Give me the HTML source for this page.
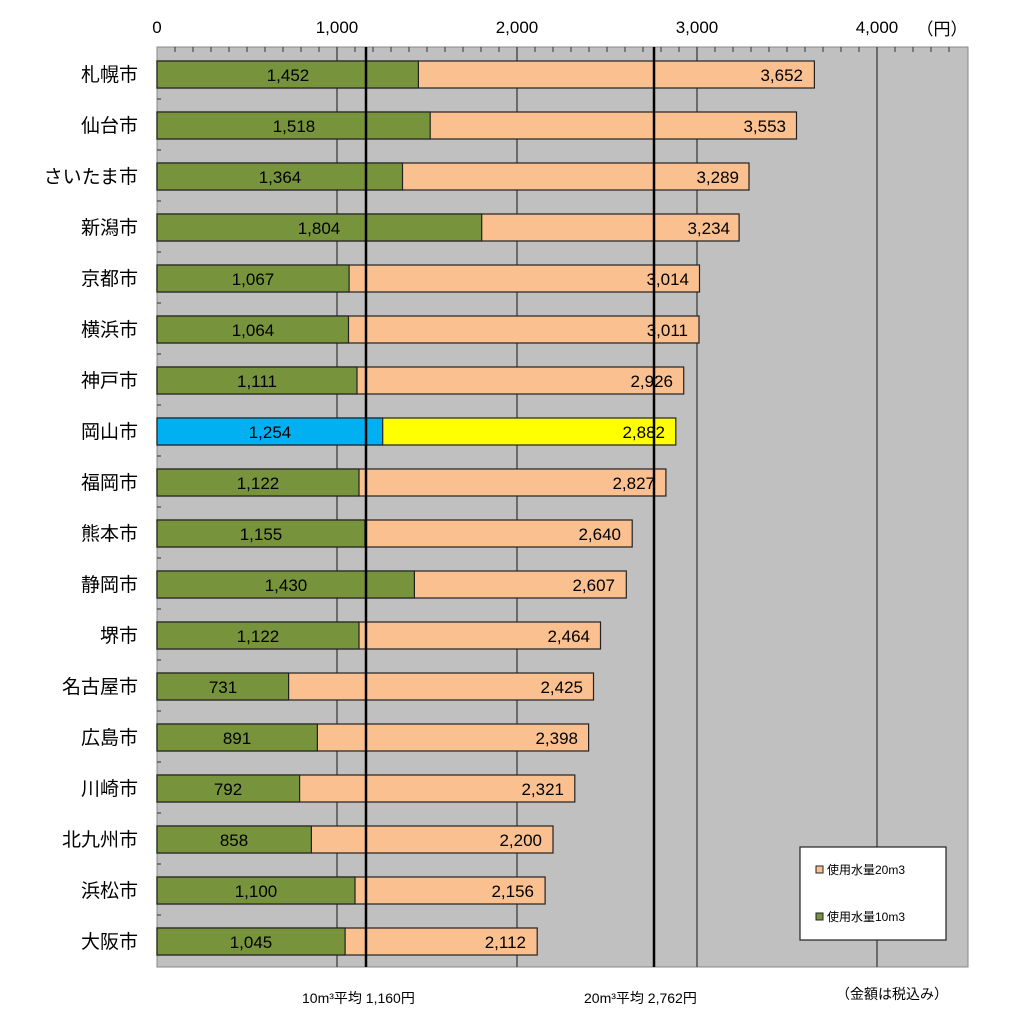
<!DOCTYPE html><html><head><meta charset="utf-8"><style>body{margin:0;background:#fff}svg{display:block}text{font-family:"Liberation Sans","Noto Sans CJK JP",sans-serif}</style></head><body>
<svg width="1018" height="1024" xmlns="http://www.w3.org/2000/svg">
<rect x="157" y="47" width="811" height="920" fill="#c0c0c0" stroke="#888" stroke-width="1"/>
<g stroke="#333" stroke-width="1.2">
<line x1="337" y1="47" x2="337" y2="967"/><line x1="517" y1="47" x2="517" y2="967"/><line x1="697" y1="47" x2="697" y2="967"/><line x1="877" y1="47" x2="877" y2="967"/>
</g>
<g stroke="#333" stroke-width="1">
<path d="M175 47v5M193 47v5M211 47v5M229 47v5M247 47v5M265 47v5M283 47v5M301 47v5M319 47v5M355 47v5M373 47v5M391 47v5M409 47v5M427 47v5M445 47v5M463 47v5M481 47v5M499 47v5M535 47v5M553 47v5M571 47v5M589 47v5M607 47v5M625 47v5M643 47v5M661 47v5M679 47v5M715 47v5M733 47v5M751 47v5M769 47v5M787 47v5M805 47v5M823 47v5M841 47v5M859 47v5M895 47v5M913 47v5M931 47v5M949 47v5"/>
<path d="M157 99h4M157 150h4M157 201h4M157 252h4M157 303h4M157 354h4M157 405h4M157 456h4M157 507h4M157 558h4M157 609h4M157 660h4M157 711h4M157 762h4M157 813h4M157 864h4M157 915h4"/>
</g>
<g font-size="17" fill="#000" text-anchor="middle">
<text x="157" y="33">0</text><text x="337" y="33">1,000</text><text x="517" y="33">2,000</text><text x="697" y="33">3,000</text><text x="877" y="33">4,000</text>
<text x="942" y="35">（円）</text>
</g>
<g stroke="#222" stroke-width="1.2">
<rect x="157" y="61" width="657.4" height="27" fill="#fac090"/><rect x="157" y="61" width="261.4" height="27" fill="#77933c"/>
<rect x="157" y="112" width="639.5" height="27" fill="#fac090"/><rect x="157" y="112" width="273.2" height="27" fill="#77933c"/>
<rect x="157" y="163" width="592" height="27" fill="#fac090"/><rect x="157" y="163" width="245.5" height="27" fill="#77933c"/>
<rect x="157" y="214" width="582.1" height="27" fill="#fac090"/><rect x="157" y="214" width="324.7" height="27" fill="#77933c"/>
<rect x="157" y="265" width="542.5" height="27" fill="#fac090"/><rect x="157" y="265" width="192.1" height="27" fill="#77933c"/>
<rect x="157" y="316" width="542" height="27" fill="#fac090"/><rect x="157" y="316" width="191.5" height="27" fill="#77933c"/>
<rect x="157" y="367" width="526.7" height="27" fill="#fac090"/><rect x="157" y="367" width="200" height="27" fill="#77933c"/>
<rect x="157" y="418" width="518.8" height="27" fill="#ffff00"/><rect x="157" y="418" width="225.7" height="27" fill="#00b0f0"/>
<rect x="157" y="469" width="508.9" height="27" fill="#fac090"/><rect x="157" y="469" width="202" height="27" fill="#77933c"/>
<rect x="157" y="520" width="475.2" height="27" fill="#fac090"/><rect x="157" y="520" width="207.9" height="27" fill="#77933c"/>
<rect x="157" y="571" width="469.3" height="27" fill="#fac090"/><rect x="157" y="571" width="257.4" height="27" fill="#77933c"/>
<rect x="157" y="622" width="443.5" height="27" fill="#fac090"/><rect x="157" y="622" width="202" height="27" fill="#77933c"/>
<rect x="157" y="673" width="436.5" height="27" fill="#fac090"/><rect x="157" y="673" width="131.6" height="27" fill="#77933c"/>
<rect x="157" y="724" width="431.6" height="27" fill="#fac090"/><rect x="157" y="724" width="160.4" height="27" fill="#77933c"/>
<rect x="157" y="775" width="417.8" height="27" fill="#fac090"/><rect x="157" y="775" width="142.6" height="27" fill="#77933c"/>
<rect x="157" y="826" width="396" height="27" fill="#fac090"/><rect x="157" y="826" width="154.4" height="27" fill="#77933c"/>
<rect x="157" y="877" width="388.1" height="27" fill="#fac090"/><rect x="157" y="877" width="198" height="27" fill="#77933c"/>
<rect x="157" y="928" width="380.2" height="27" fill="#fac090"/><rect x="157" y="928" width="188.1" height="27" fill="#77933c"/>
</g>
<g stroke="#000" stroke-width="2.5"><line x1="366" y1="47" x2="366" y2="967"/><line x1="654" y1="47" x2="654" y2="967"/></g>
<g font-size="17" fill="#000" text-anchor="middle">
<text x="288" y="81">1,452</text><text x="294" y="132">1,518</text><text x="280" y="183">1,364</text><text x="319" y="234">1,804</text><text x="253" y="285">1,067</text><text x="253" y="336">1,064</text><text x="257" y="387">1,111</text><text x="270" y="438">1,254</text><text x="258" y="489">1,122</text><text x="261" y="540">1,155</text><text x="286" y="591">1,430</text><text x="258" y="642">1,122</text><text x="223" y="693">731</text><text x="237" y="744">891</text><text x="228" y="795">792</text><text x="234" y="846">858</text><text x="256" y="897">1,100</text><text x="251" y="948">1,045</text>
</g>
<g font-size="17" fill="#000" text-anchor="end">
<text x="803" y="81">3,652</text><text x="786" y="132">3,553</text><text x="739" y="183">3,289</text><text x="730" y="234">3,234</text><text x="689" y="285">3,014</text><text x="688" y="336">3,011</text><text x="673" y="387">2,926</text><text x="665" y="438">2,882</text><text x="655" y="489">2,827</text><text x="621" y="540">2,640</text><text x="615" y="591">2,607</text><text x="590" y="642">2,464</text><text x="583" y="693">2,425</text><text x="578" y="744">2,398</text><text x="564" y="795">2,321</text><text x="542" y="846">2,200</text><text x="534" y="897">2,156</text><text x="526" y="948">2,112</text>
</g>
<g font-size="19" fill="#000" text-anchor="end">
<text x="138" y="81">札幌市</text><text x="138" y="132">仙台市</text><text x="138" y="183">さいたま市</text><text x="138" y="234">新潟市</text><text x="138" y="285">京都市</text><text x="138" y="336">横浜市</text><text x="138" y="387">神戸市</text><text x="138" y="438">岡山市</text><text x="138" y="489">福岡市</text><text x="138" y="540">熊本市</text><text x="138" y="591">静岡市</text><text x="138" y="642">堺市</text><text x="138" y="693">名古屋市</text><text x="138" y="744">広島市</text><text x="138" y="795">川崎市</text><text x="138" y="846">北九州市</text><text x="138" y="897">浜松市</text><text x="138" y="948">大阪市</text>
</g>
<rect x="800" y="847" width="146" height="93" fill="#fff" stroke="#222" stroke-width="1.2"/>
<rect x="816" y="866" width="7" height="7" fill="#fac090" stroke="#222"/>
<rect x="816" y="913" width="7" height="7" fill="#77933c" stroke="#222"/>
<g font-size="12" fill="#000"><text x="827" y="874">使用水量20m3</text><text x="827" y="921">使用水量10m3</text></g>
<g font-size="14" fill="#000">
<text x="302" y="1003">10m³平均  1,160円</text>
<text x="584" y="1003">20m³平均  2,762円</text>
<text x="836" y="999">（金額は税込み）</text>
</g>
</svg>
</body></html>
